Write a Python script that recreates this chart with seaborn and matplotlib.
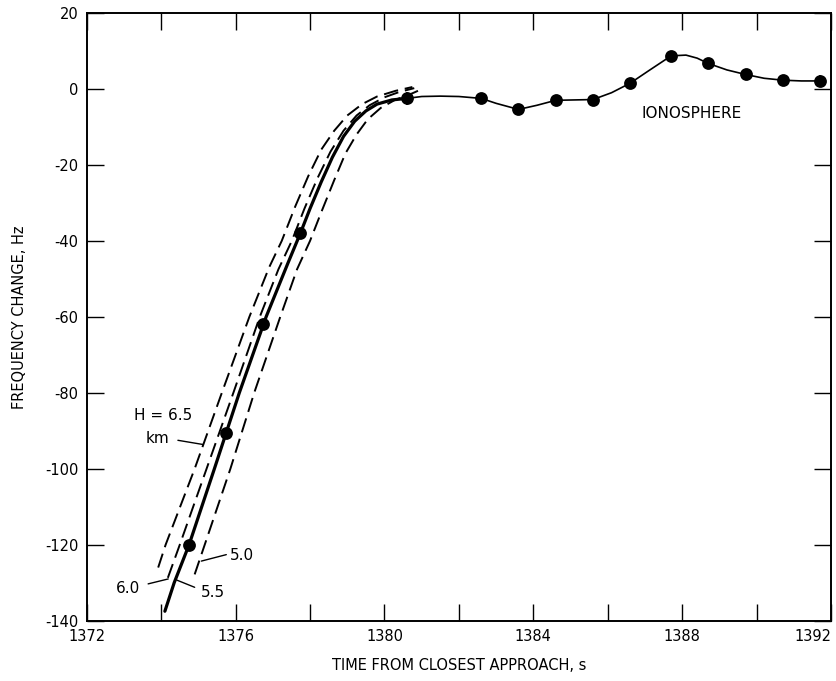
import matplotlib
matplotlib.use("Agg")
import matplotlib.pyplot as plt
import seaborn as sns
from matplotlib.ticker import MultipleLocator

# ---- data ----
# measured points (filled circles)
obs_time = [1374.75, 1375.75, 1376.73, 1377.74, 1380.6, 1382.6, 1383.6, 1384.6,
            1385.6, 1386.6, 1387.7, 1388.7, 1389.7, 1390.7, 1391.7]
obs_freq = [-120.0, -90.5, -62.0, -38.0, -2.5, -2.5, -5.4, -3.0,
            -2.8, 1.5, 8.7, 6.7, 3.8, 2.3, 2.1]
err_time = [1380.6, 1382.6, 1384.6, 1385.6, 1391.7]
err_freq = [-2.5, -2.5, -3.0, -2.8, 2.1]
err_size = [1.8, 1.2, 1.2, 1.2, 1.6]

# model curves (scale height H, km)
h55_t = [1374.10, 1374.35, 1374.75, 1375.43, 1376.10, 1376.82, 1377.40, 1377.74, 1378.00,
         1378.30, 1378.60, 1378.90, 1379.20, 1379.50, 1379.80, 1380.20, 1380.60]
h55_f = [-137.5, -130.0, -120.0, -100.0, -80.0, -60.0, -46.0, -38.0, -31.5,
         -24.5, -18.0, -12.5, -8.5, -5.8, -4.0, -2.9, -2.5]
h65_t = [1373.92, 1374.12, 1374.90, 1375.63, 1376.37, 1376.90, 1377.24, 1377.60, 1377.95,
         1378.30, 1378.65, 1379.00, 1379.40, 1379.80, 1380.30, 1380.75]
h65_f = [-126.0, -120.0, -100.0, -80.0, -60.0, -47.0, -40.0, -31.0, -23.0,
         -16.0, -11.0, -7.0, -4.0, -2.0, -0.5, 0.5]
h60_t = [1374.18, 1374.50, 1375.22, 1375.94, 1376.65, 1377.15, 1377.51, 1377.85, 1378.20,
         1378.55, 1378.90, 1379.25, 1379.60, 1380.00, 1380.40, 1380.80]
h60_f = [-128.7, -120.0, -100.0, -80.0, -60.0, -47.5, -40.0, -31.5, -23.5,
         -16.5, -11.0, -7.0, -4.3, -2.2, -0.8, 0.2]
h50_t = [1374.90, 1375.17, 1375.86, 1376.50, 1377.20, 1377.65, 1378.00, 1378.30, 1378.65,
         1378.95, 1379.25, 1379.55, 1379.90, 1380.30, 1380.60, 1380.90]
h50_f = [-127.8, -120.0, -100.0, -80.0, -60.0, -47.5, -40.0, -32.5, -24.0,
         -17.0, -12.0, -8.0, -5.0, -2.8, -1.8, -0.5]

# ionosphere curve
ion_t = [1380.6, 1381.0, 1381.5, 1382.0, 1382.6, 1383.0, 1383.6, 1384.1, 1384.6, 1385.1,
         1385.6, 1386.1, 1386.6, 1387.1, 1387.7, 1388.1, 1388.4, 1388.7, 1389.2, 1389.7,
         1390.2, 1390.7, 1391.2, 1391.7]
ion_f = [-2.5, -2.0, -1.9, -2.0, -2.5, -3.8, -5.4, -4.3, -3.0, -2.9,
         -2.8, -1.0, 1.5, 4.8, 8.7, 8.9, 8.1, 6.7, 5.0, 3.8,
         2.8, 2.3, 2.1, 2.1]

x_ticks = [1372, 1376, 1380, 1384, 1388, 1392]
y_ticks = [-140, -120, -100, -80, -60, -40, -20, 0, 20]

# ---- plotting ----
sns.set_style("ticks")
plt.rcParams['font.family'] = ['DejaVu Sans']
plt.rcParams['axes.unicode_minus'] = False
plt.rcParams['text.color'] = 'black'
plt.rcParams['axes.labelcolor'] = 'black'

fig = plt.figure(figsize=(8.37, 6.81), dpi=100)
ax = fig.add_axes([0.1036, 0.0885, 0.8894, 0.8925])

dash = (0, (7.5, 3.5))
for t, f in [(h65_t, h65_f), (h60_t, h60_f), (h50_t, h50_f)]:
    sns.lineplot(x=t, y=f, ax=ax, color="black", lw=1.4, linestyle=dash,
                 sort=False, estimator=None)
sns.lineplot(x=h55_t, y=h55_f, ax=ax, color="black", lw=2.3, sort=False, estimator=None)
sns.lineplot(x=ion_t, y=ion_f, ax=ax, color="black", lw=1.2, sort=False, estimator=None)

ax.errorbar(err_time, err_freq, yerr=err_size, fmt="none", ecolor="black",
            elinewidth=1.2, capsize=0)
sns.scatterplot(x=obs_time, y=obs_freq, ax=ax, color="black", s=85,
                edgecolor="black", linewidth=0, zorder=5)

ax.set_xlim(1372, 1392)
ax.set_ylim(-140, 20)
ax.set_xticks(x_ticks)
ax.set_yticks(y_ticks)
ax.xaxis.set_minor_locator(MultipleLocator(2))
ax.tick_params(axis="both", which="both", direction="in", length=12.5, width=1.0,
               top=True, right=True, labelsize=10.5, colors="black", pad=6)
for sp in ax.spines.values():
    sp.set_linewidth(1.4)
    sp.set_color("black")
labels = ax.get_xticklabels()
labels[-1].set_horizontalalignment("right")

ax.set_xlabel("TIME FROM CLOSEST APPROACH, s", fontsize=10.5, labelpad=10)
ax.set_ylabel("FREQUENCY CHANGE, Hz", fontsize=10.5, labelpad=13)

ax.text(1388.25, -6.4, "IONOSPHERE", fontsize=11, ha="center", va="center")

# curve labels with leaders
ax.text(1374.05, -86.0, "H = 6.5", fontsize=11, ha="center", va="center")
ax.text(1373.9, -91.9, "km", fontsize=11, ha="center", va="center")
ax.plot([1374.45, 1375.12], [-92.5, -93.6], color="black", lw=1.0)
ax.text(1376.17, -122.7, "5.0", fontsize=11, ha="center", va="center")
ax.plot([1375.75, 1375.08], [-122.6, -124.3], color="black", lw=1.0)
ax.text(1373.1, -131.6, "6.0", fontsize=11, ha="center", va="center")
ax.plot([1373.65, 1374.19], [-130.3, -129.0], color="black", lw=1.0)
ax.text(1375.38, -132.5, "5.5", fontsize=11, ha="center", va="center")
ax.plot([1374.9, 1374.42], [-131.2, -129.3], color="black", lw=1.0)

fig.savefig("out.png", dpi=100)
